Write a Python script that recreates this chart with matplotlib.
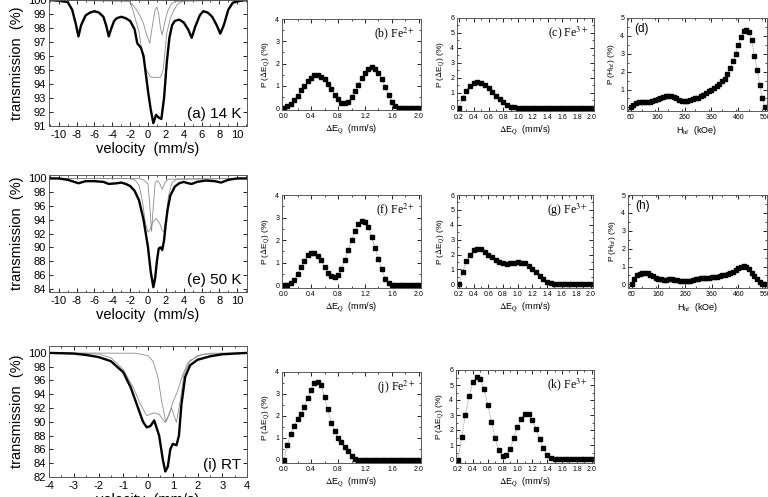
import matplotlib.pyplot as plt
import numpy as np
from matplotlib.ticker import MultipleLocator

plt.rcParams['axes.unicode_minus'] = False
plt.rcParams['mathtext.fontset'] = 'stix'

# ---- spectra (velocity mm/s, transmission %) ----
vel_14K = [-11, -10, -9.5, -9, -8.5, -8.1, -7.8, -7.5, -7.0, -6.5, -6.0, -5.5, -5.0, -4.7, -4.4, -4.1,
           -3.8, -3.5, -3.0, -2.5, -2.0, -1.5, -1.2, -0.8, -0.5, -0.2, 0.0, 0.3, 0.6, 0.9, 1.2, 1.5,
           1.8, 2.1, 2.4, 2.7, 3.0, 3.5, 4.0, 4.5, 4.9, 5.3, 5.8, 6.2, 6.7, 7.2, 7.7, 8.1, 8.5, 9.0,
           9.5, 10, 11]
tr_14K = [100.0, 99.95, 99.9, 99.85, 99.3, 98.3, 97.4, 98.2, 98.9, 99.1, 99.2, 99.1, 98.8, 98.2, 97.4, 98.0,
          98.5, 98.7, 98.8, 98.7, 98.5, 97.9, 96.9, 96.6, 96.0, 94.5, 93.5, 92.2, 91.2, 91.8, 91.6, 91.5,
          93.0, 95.5, 97.3, 98.2, 98.5, 98.6, 98.4, 97.9, 97.3, 98.1, 98.9, 99.2, 99.1, 98.8, 98.2, 97.6, 98.2, 99.3,
          99.8, 99.9, 100.0]
sub1_v_14K = [-11, -2.0, -1.7, -1.0, -0.6, -0.2, 0.3, 0.9, 1.4, 1.7, 2.1, 2.5, 2.85, 3.3, 4.0, 11]
sub1_t_14K = [100, 99.9, 99.3, 97.7, 96.0, 95.0, 94.5, 94.45, 94.5, 95.0, 97.6, 98.7, 99.2, 99.7, 99.95, 100]
sub2_v_14K = [-11, -2.5, -2.0, -1.5, -1.0, -0.5, -0.2, 0.2, 0.5, 0.8, 1.0, 1.2, 1.4, 1.6, 1.9, 2.2, 2.6, 3.0, 11]
sub2_t_14K = [100, 99.95, 99.85, 99.5, 99.0, 98.3, 97.6, 96.9, 98.2, 99.3, 99.5, 99.0, 98.0, 97.5, 98.5, 99.2, 99.7, 99.9, 100]

vel_50K = [-11, -10, -9, -8.5, -7.8, -7.0, -6.0, -5.0, -4.4, -3.5, -3.0, -2.5, -2.0, -1.5, -1.0, -0.5,
           0.0, 0.3, 0.6, 0.8, 1.0, 1.2, 1.4, 1.6, 1.8, 2.0, 2.2, 2.5, 3.0, 3.5, 4.0, 4.5, 4.9, 5.5,
           6.5, 7.5, 8.2, 9.0, 10, 11]
tr_50K = [100.0, 100.0, 99.8, 99.6, 99.3, 99.6, 99.6, 99.5, 99.2, 99.3, 99.4, 99.2, 98.9, 98.2, 96.8, 94.0,
          90.0, 86.5, 84.2, 85.5, 88.0, 89.8, 90.0, 89.6, 91.0, 93.5, 95.5, 97.5, 98.8, 99.3, 99.5, 99.3, 99.2, 99.5,
          99.7, 99.6, 99.4, 99.8, 100.0, 100.0]
sub1_v_50K = [-11, -2.0, -1.5, -1.0, -0.6, -0.3, 0.0, 0.2, 0.5, 0.9, 1.3, 1.6, 1.8, 2.0, 2.3, 2.7, 3.2, 11]
sub1_t_50K = [100, 100, 99.8, 99.0, 96.5, 93.5, 92.2, 92.5, 93.5, 94.2, 93.5, 92.4, 92.3, 94.0, 97.5, 99.4, 99.9, 100]
sub2_v_50K = [-11, -1.0, -0.5, 0.0, 0.2, 0.4, 0.6, 0.8, 1.0, 1.3, 1.6, 1.9, 2.3, 11]
sub2_t_50K = [100, 100, 99.8, 99.2, 96.0, 92.3, 96.0, 99.3, 99.7, 99.3, 98.4, 99.4, 99.9, 100]

vel_RT = [-4, -3, -2.5, -2, -1.5, -1.0, -0.7, -0.4, -0.2, -0.05, 0.1, 0.25, 0.45, 0.6, 0.7, 0.8,
          0.9, 1.0, 1.15, 1.25, 1.35, 1.5, 1.7, 2.0, 2.5, 3.0, 4]
tr_RT = [100.0, 99.9, 99.7, 99.4, 98.8, 97.2, 95.0, 92.0, 90.0, 89.2, 89.4, 90.2, 88.0, 84.5, 82.8, 83.5,
         86.0, 86.8, 86.6, 88.0, 92.5, 96.5, 98.2, 99.0, 99.5, 99.8, 100.0]
sub1_v_RT = [-4, -2.0, -1.5, -1.0, -0.6, -0.3, -0.05, 0.25, 0.45, 0.7, 0.95, 1.15, 1.3, 1.45, 1.7, 2.2, 4]
sub1_t_RT = [100, 99.85, 99.3, 97.6, 95.0, 92.5, 90.9, 91.3, 91.1, 89.9, 92.0, 89.9, 93.0, 96.8, 98.9, 99.8, 100]
sub2_v_RT = [-4, -0.5, 0.0, 0.2, 0.4, 0.55, 0.72, 0.85, 1.0, 1.2, 1.4, 1.6, 2.0, 2.5, 4]
sub2_t_RT = [100, 99.95, 99.6, 98.8, 96.5, 93.0, 90.0, 91.0, 92.8, 94.5, 96.8, 98.5, 99.6, 99.95, 100]

# ---- distributions ----
dEq_a = np.round(np.arange(0.0, 2.001, 0.05), 2)    # 0.0 .. 2.0
dEq_b = np.round(np.arange(0.2, 2.001, 0.05), 2)    # 0.2 .. 2.0
Hhf = np.arange(60, 561, 10)

p_b = [0, 0.08, 0.2, 0.35, 0.55, 0.8, 1.0, 1.2, 1.35, 1.47, 1.48, 1.42, 1.3, 1.1, 0.85, 0.6, 0.4, 0.25,
       0.22, 0.3, 0.5, 0.75, 1.05, 1.35, 1.6, 1.75, 1.83, 1.78, 1.6, 1.3, 0.95, 0.6, 0.3, 0.12, 0.03,
       0, 0, 0, 0, 0, 0]
p_c = [0, 0.65, 1.15, 1.45, 1.65, 1.72, 1.65, 1.5, 1.3, 1.05, 0.8, 0.55, 0.35, 0.2, 0.08, 0.02,
       0, 0, 0, 0, 0, 0, 0, 0, 0, 0, 0, 0, 0, 0, 0, 0, 0, 0, 0, 0, 0]
p_d = [0, 0.15, 0.25, 0.3, 0.32, 0.32, 0.32, 0.33, 0.35, 0.4, 0.48, 0.55, 0.6, 0.63, 0.65, 0.63, 0.58,
       0.5, 0.42, 0.37, 0.35, 0.36, 0.4, 0.45, 0.5, 0.55, 0.62, 0.7, 0.8, 0.9, 1.0, 1.1, 1.2, 1.3,
       1.45, 1.6, 1.85, 2.2, 2.6, 3.0, 3.5, 3.95, 4.3, 4.35, 4.2, 3.75, 2.9, 2.1, 1.25, 0.5, 0]
p_f = [0, 0.02, 0.08, 0.25, 0.5, 0.8, 1.08, 1.32, 1.43, 1.42, 1.3, 1.1, 0.8, 0.55, 0.4, 0.35, 0.45,
       0.7, 1.1, 1.55, 2.0, 2.4, 2.7, 2.85, 2.8, 2.6, 2.15, 1.65, 1.15, 0.7, 0.3, 0.08, 0.02,
       0, 0, 0, 0, 0, 0, 0, 0]
p_g = [0, 0.85, 1.55, 2.0, 2.3, 2.4, 2.35, 2.2, 2.0, 1.8, 1.6, 1.5, 1.42, 1.38, 1.4, 1.43, 1.47,
       1.45, 1.4, 1.25, 1.05, 0.8, 0.55, 0.35, 0.18, 0.08, 0.03, 0.01, 0, 0, 0, 0, 0, 0, 0, 0, 0]
p_h = [0, 0.3, 0.5, 0.6, 0.65, 0.65, 0.62, 0.55, 0.45, 0.38, 0.32, 0.28, 0.27, 0.27, 0.28, 0.28,
       0.27, 0.24, 0.2, 0.18, 0.17, 0.18, 0.2, 0.25, 0.3, 0.33, 0.35, 0.37, 0.38, 0.38, 0.39, 0.4,
       0.42, 0.45, 0.5, 0.55, 0.6, 0.65, 0.72, 0.8, 0.9, 1.0, 1.03, 0.98, 0.85, 0.65, 0.45, 0.28,
       0.12, 0.03, 0]
p_j = [0, 0.7, 1.2, 1.55, 1.85, 2.07, 2.4, 2.8, 3.2, 3.5, 3.55, 3.4, 2.85, 2.3, 1.7, 1.3, 1.0, 0.8,
       0.6, 0.4, 0.2, 0.05, 0, 0, 0, 0, 0, 0, 0, 0, 0, 0, 0, 0, 0, 0, 0, 0, 0, 0, 0]
p_k = [0, 1.55, 3.0, 4.25, 5.2, 5.55, 5.4, 4.75, 3.7, 2.55, 1.45, 0.65, 0.25, 0.35, 0.75, 1.45,
       2.2, 2.75, 3.1, 3.05, 2.7, 2.05, 1.4, 0.8, 0.35, 0.12, 0.05, 0.04, 0.04, 0.04, 0.04, 0.04,
       0.04, 0.04, 0.04, 0.04, 0.04]

W, H = 768, 497
fig = plt.figure(figsize=(W / 100, H / 100), dpi=100)
SANS = 'Liberation Sans'
SERIF = 'Liberation Serif'


def box(l, t, r, b):
    # pixel box -> axes
    return fig.add_axes([l / W, 1 - b / H, (r - l) / W, (b - t) / H])


def style(ax, size):
    ax.tick_params(which='both', direction='in', top=True, right=True, labelsize=size, pad=2)
    ax.tick_params(which='major', length=3, width=0.6)
    ax.tick_params(which='minor', length=1.6, width=0.5)
    for s in ax.spines.values():
        s.set_linewidth(0.7)
        s.set_color('0.35')
    for lab in ax.get_xticklabels() + ax.get_yticklabels():
        lab.set_family(SANS)


def spectrum(ax, v, t, subs, xlim, ylim, xmaj, ymaj, label):
    for sv, st in subs:
        ax.plot(sv, st, color='0.55', lw=0.6)
    ax.plot(v, t, color='black', lw=1.7)
    ax.set_xlim(*xlim)
    ax.set_ylim(*ylim)
    ax.xaxis.set_major_locator(MultipleLocator(xmaj))
    ax.xaxis.set_minor_locator(MultipleLocator(xmaj / 2))
    ax.yaxis.set_major_locator(MultipleLocator(ymaj))
    style(ax, 8)
    ax.tick_params(axis='x', pad=3)
    ax.set_ylabel('transmission  (%)', family=SANS, fontsize=10.5, labelpad=3)
    ax.set_xlabel('velocity  (mm/s)', family=SANS, fontsize=10.5, labelpad=1)
    ax.text(0.97, 0.04, label, transform=ax.transAxes, ha='right', va='bottom',
            family=SANS, fontsize=11)


def dist(ax, x, p, xlim, ylim, xticks, ymax, label, kind='EQ'):
    ax.plot(x, p, color='0.55', lw=0.5, ls=(0, (2, 1)))
    ax.plot(x, p, ls='none', marker='s', ms=2.3, color='black')
    ax.set_xlim(*xlim)
    ax.set_ylim(*ylim)
    ax.set_xticks(xticks)
    ax.set_yticks(np.arange(0, ymax + 1, 1))
    mx = (xticks[1] - xticks[0]) / 2
    ax.xaxis.set_minor_locator(MultipleLocator(mx))
    ax.yaxis.set_minor_locator(MultipleLocator(0.5))
    style(ax, 5)
    if kind == 'EQ':
        ax.set_xticklabels([f'{v:.1f}' for v in xticks])
        ax.set_xlabel(r'$\Delta$E$_{\rm Q}$  (mm/s)', family=SANS, fontsize=6.5, labelpad=2)
        ax.set_ylabel(r'P ($\Delta$E$_{\rm Q}$) (%)', family=SANS, fontsize=6, labelpad=2)
        ax.text(0.96, 0.93, label, transform=ax.transAxes, ha='right', va='top',
                family=SERIF, fontsize=8.5)
    else:
        ax.set_xlabel(r'H$_{\rm hf}$  (kOe)', family=SANS, fontsize=6.5, labelpad=2)
        ax.set_ylabel(r'P (H$_{\rm hf}$) (%)', family=SANS, fontsize=6, labelpad=2)
        ax.text(0.05, 0.95, label, transform=ax.transAxes, ha='left', va='top',
                family=SANS, fontsize=8.5)


ticks_a = [0.0, 0.4, 0.8, 1.2, 1.6, 2.0]
ticks_b = [0.2, 0.4, 0.6, 0.8, 1.0, 1.2, 1.4, 1.6, 1.8, 2.0]
ticks_h = [60, 160, 260, 360, 460, 560]

# row 1 (14 K)
ax = box(49, 0, 247, 126)
spectrum(ax, vel_14K, tr_14K, [(sub1_v_14K, sub1_t_14K), (sub2_v_14K, sub2_t_14K)],
         (-11.1, 11.1), (91, 100.0), 2, 1, '(a) 14 K')
dist(box(282, 19, 421, 110), dEq_a, p_b, (-0.03, 2.03), (-0.08, 4), ticks_a, 4, r'(b) Fe$^{2+}$')
dist(box(457, 18, 594, 111), dEq_b, p_c, (0.173, 2.03), (-0.22, 6), ticks_b, 6, r'(c) Fe$^{3+}$')
dist(box(627, 18, 767, 111), Hhf, p_d, (46, 567), (-0.2, 5), ticks_h, 5, '(d)', kind='H')

# row 2 (50 K)
ax = box(49, 175, 247, 292)
spectrum(ax, vel_50K, tr_50K, [(sub1_v_50K, sub1_t_50K), (sub2_v_50K, sub2_t_50K)],
         (-11.1, 11.1), (83.5, 100.5), 2, 2, '(e) 50 K')
dist(box(282, 195, 421, 288), dEq_a, p_f, (-0.03, 2.03), (-0.12, 4), ticks_a, 4, r'(f) Fe$^{2+}$')
dist(box(457, 195, 593, 288), dEq_b, p_g, (0.173, 2.03), (-0.25, 6), ticks_b, 6, r'(g) Fe$^{3+}$')
dist(box(628, 195, 767, 288), Hhf, p_h, (46, 567), (-0.2, 5), ticks_h, 5, '(h)', kind='H')

# row 3 (RT)
ax = box(49, 346, 247, 477)
spectrum(ax, vel_RT, tr_RT, [(sub1_v_RT, sub1_t_RT), (sub2_v_RT, sub2_t_RT)],
         (-4, 4), (82, 101), 1, 2, '(i) RT')
dist(box(282, 372, 421, 463), dEq_a, p_j, (-0.03, 2.03), (-0.14, 4), ticks_a, 4, r'(j) Fe$^{2+}$')
dist(box(456, 370, 594, 463), dEq_b, p_k, (0.173, 2.03), (-0.2, 6), ticks_b, 6, r'(k) Fe$^{3+}$')

fig.savefig('out.png', dpi=100)
